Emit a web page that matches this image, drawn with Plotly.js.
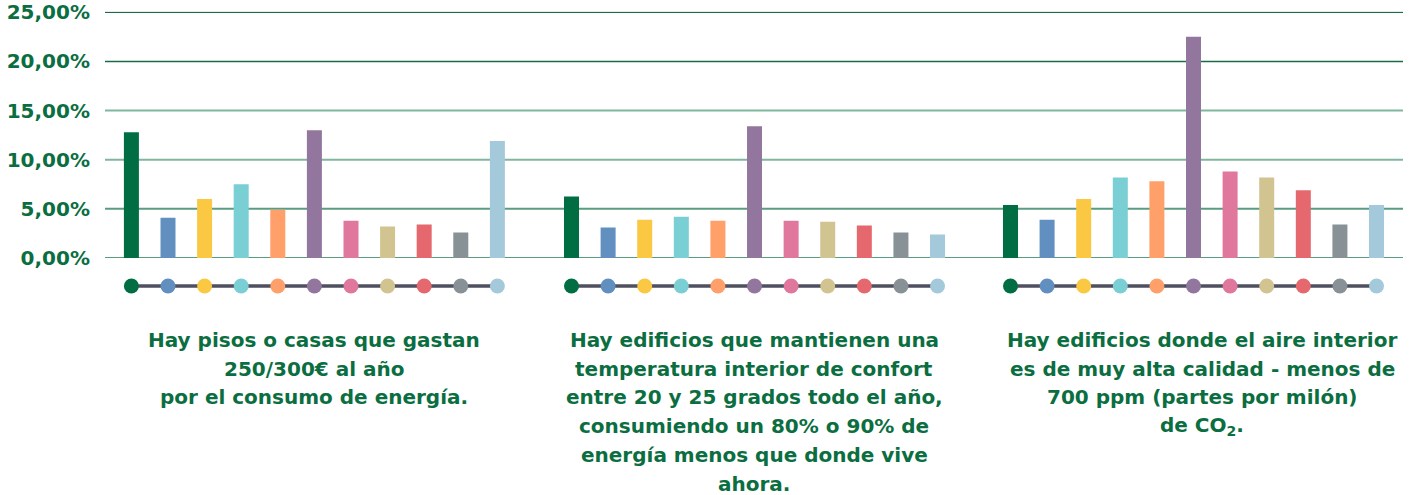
<!DOCTYPE html>
<html>
<head>
<meta charset="utf-8">
<script src="https://cdn.plot.ly/plotly-3.0.1.min.js"></script>
<style>html,body{margin:0;padding:0;background:#fff;}#chart{width:1414px;height:495px;}</style>
</head>
<body>
<div id="chart"></div>
<script>
// ---- data ----
const categories = ["1","2","3","4","5","6","7","8","9","10","11"];
const colors = ["#006e42","#6190c0","#fbc843","#7acfd4","#ffa06a","#93769e","#e0789d","#d1c491","#e6686f","#889296","#a3c9da"];
const pisosValues = [12.8, 4.1, 6.0, 7.5, 4.9, 13.0, 3.8, 3.2, 3.4, 2.6, 11.9];
const confortValues = [6.25, 3.1, 3.9, 4.2, 3.8, 13.4, 3.8, 3.7, 3.3, 2.6, 2.4];
const aireValues = [5.4, 3.9, 6.0, 8.2, 7.8, 22.5, 8.8, 8.2, 6.9, 3.4, 5.4];
const yTicks = [0, 5, 10, 15, 20, 25];
const yTickText = yTicks.map(v => v.toFixed(2).replace(".", ",") + "%");
const pisosLines = ["Hay pisos o casas que gastan", "250/300€ al año", "por el consumo de energía."];
const confortLines = ["Hay edificios que mantienen una", "temperatura interior de confort", "entre 20 y 25 grados todo el año,", "consumiendo un 80% o 90% de", "energía menos que donde vive", "ahora."];
const aireLines = ["Hay edificios donde el aire interior", "es de muy alta calidad - menos de", "700 ppm (partes por milón)", "de CO<sub>2</sub>."];

// ---- styling ----
const GREEN = "#0b6e41";
const FONT = "DejaVu Sans";
const groups = [
  {vals: pisosValues, xa: "x", dom: [0.00624, 0.3164], lines: pisosLines, cx: 314},
  {vals: confortValues, xa: "x2", dom: [0.3453, 0.6555], lines: confortLines, cx: 754},
  {vals: aireValues, xa: "x3", dom: [0.6835, 0.9937], lines: aireLines, cx: 1202}
];

const traces = [];
groups.forEach(g => {
  traces.push({type: "bar", x: categories, y: g.vals, xaxis: g.xa, yaxis: "y",
    marker: {color: colors, line: {width: 0}}, hoverinfo: "none"});
});
groups.forEach(g => {
  traces.push({type: "scatter", mode: "lines+markers", x: categories, y: categories.map(() => 0),
    xaxis: g.xa, yaxis: "y2", line: {color: "#4e4f5f", width: 3.5},
    marker: {color: colors, size: 15, line: {width: 0}}, hoverinfo: "none"});
});

const W = 1414, H = 495, ML = 105, MR = 11;
const baseX = (px) => (px - ML) / (W - ML - MR);

const layout = {
  width: W, height: H,
  margin: {l: ML, r: MR, t: 0, b: 0},
  paper_bgcolor: "#fff", plot_bgcolor: "rgba(0,0,0,0)",
  showlegend: false, bargap: 0.59,
  yaxis: {domain: [1 - 258/495, 1 - 11.8/495], range: [0, 25.05], tickmode: "array",
    tickvals: yTicks, ticktext: yTickText, showgrid: false, zeroline: false, showline: false,
    anchor: "free", position: 0, ticks: "", ticklabelstandoff: 15,
    tickfont: {family: FONT, size: 20, color: GREEN, weight: 700}},
  yaxis2: {domain: [0.40, 0.4444], range: [-1, 1], visible: false, fixedrange: true},
  shapes: yTicks.map(v => ({type: "line", xref: "paper", yref: "y", x0: 0, x1: 1, y0: v, y1: v, layer: "below",
    line: {color: v >= 20 ? "#1b6c46" : (v >= 10 ? "#80b69d" : "#5a9c80"), width: v >= 20 ? 1.5 : 2}})),
  annotations: []
};
groups.forEach((g, gi) => {
  const key = gi === 0 ? "xaxis" : "xaxis" + (gi + 1);
  layout[key] = {domain: g.dom, type: "category", range: [-0.5, 10.5], anchor: "y",
    showticklabels: false, showgrid: false, zeroline: false, showline: false, ticks: ""};
  g.lines.forEach((t, li) => {
    layout.annotations.push({xref: "paper", yref: "paper", x: baseX(g.cx), y: 1 - (340 + li * 28.7) / H,
      xanchor: "center", yanchor: "middle", showarrow: false, text: t, borderpad: 0,
      font: {family: FONT, size: 20, color: GREEN, weight: 700}});
  });
});

Plotly.newPlot("chart", traces, layout, {displayModeBar: false, staticPlot: true});
</script>
</body>
</html>
